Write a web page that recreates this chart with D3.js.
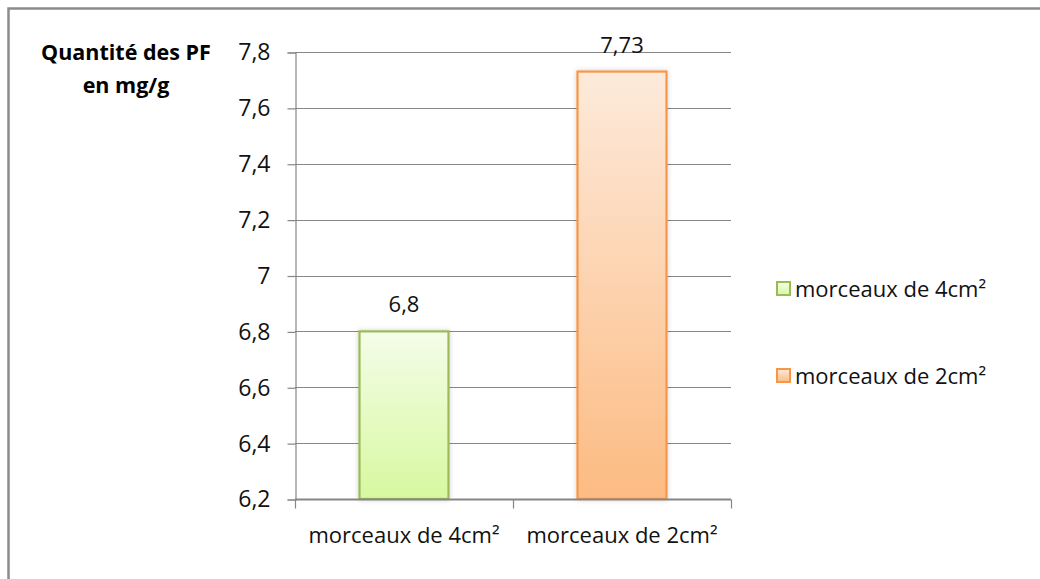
<!DOCTYPE html>
<html><head><meta charset="utf-8">
<script src="https://cdn.jsdelivr.net/npm/d3@7"></script>
<style>
html,body{margin:0;padding:0;background:#fff;}
svg{display:block;font-family:"Open Sans","Noto Sans",sans-serif;}
</style></head>
<body>
<svg id="chart" width="1040" height="579"></svg>
<script>
// Quantité de PF selon la taille des morceaux
const categories = ["morceaux de 4cm²", "morceaux de 2cm²"];
const values = [6.8, 7.73];
const valueLabels = ["6,8", "7,73"];
const yTicks = [6.2, 6.4, 6.6, 6.8, 7.0, 7.2, 7.4, 7.6, 7.8];
const yTickLabels = ["6,2", "6,4", "6,6", "6,8", "7", "7,2", "7,4", "7,6", "7,8"];
const fillTop = ["#f4fde9", "#fdeadb"];
const fillBottom = ["#d7f89f", "#fcbb82"];
const strokes = ["#9bbb59", "#f79646"];

const svg = d3.select("#chart");

// outer frame
svg.append("rect").attr("x", 8.5).attr("y", 8.5).attr("width", 1040).attr("height", 600)
  .attr("fill", "none").attr("stroke", "#8c8c8c").attr("stroke-width", 2.5);

const plot = {left: 295, right: 731, top: 52, bottom: 499};

const y = d3.scaleLinear().domain([6.2, 7.8]).range([plot.bottom, plot.top]);
const x = d3.scaleBand().domain(categories).range([plot.left, plot.right])
  .paddingInner(0.0).paddingOuter(0);

const defs = svg.append("defs");
categories.forEach((c, i) => {
  const g = defs.append("linearGradient").attr("id", "grad" + i)
    .attr("x1", 0).attr("y1", 0).attr("x2", 0).attr("y2", 1);
  g.append("stop").attr("offset", "0%").attr("stop-color", fillTop[i]);
  g.append("stop").attr("offset", "100%").attr("stop-color", fillBottom[i]);
});
const f = defs.append("filter").attr("id", "shadow").attr("x", "-20%").attr("y", "-5%")
  .attr("width", "140%").attr("height", "110%");
f.append("feDropShadow").attr("dx", 0).attr("dy", 0).attr("stdDeviation", 2.5)
  .attr("flood-color", "#000").attr("flood-opacity", 0.18);

// horizontal gridlines
svg.append("g").selectAll("line").data(yTicks.slice(1)).join("line")
  .attr("x1", plot.left).attr("x2", plot.right)
  .attr("y1", d => Math.round(y(d)) + 0.5).attr("y2", d => Math.round(y(d)) + 0.5)
  .attr("stroke", "#868686").attr("stroke-width", 1.2);

// y axis
const yAxis = d3.axisLeft(y).tickValues(yTicks)
  .tickFormat((d, i) => yTickLabels[i]).tickSize(8).tickPadding(17);
const gy = svg.append("g").attr("transform", `translate(${plot.left + 0.5},0.5)`).call(yAxis);
gy.select(".domain").attr("stroke", "#868686").attr("stroke-width", 1.2);
gy.selectAll(".tick line").attr("stroke", "#868686").attr("stroke-width", 1.2);
gy.selectAll(".tick text").attr("font-size", 23).attr("fill", "#111")
  .attr("font-family", "'Open Sans','Noto Sans',sans-serif");

// bars
const barW = 89;
svg.append("g").selectAll("rect").data(values).join("rect")
  .attr("x", (d, i) => x(categories[i]) + x.bandwidth() / 2 - barW / 2)
  .attr("y", d => y(d))
  .attr("width", barW)
  .attr("height", d => y(6.2) - y(d))
  .attr("fill", (d, i) => `url(#grad${i})`)
  .attr("stroke", (d, i) => strokes[i]).attr("stroke-width", 2.2)
  .attr("filter", "url(#shadow)");

// x axis
const xAxis = d3.axisBottom(x).tickSize(0).tickFormat("");
const gx = svg.append("g").attr("transform", `translate(0,${plot.bottom + 0.5})`).call(xAxis);
gx.select(".domain").remove();
gx.append("line").attr("x1", plot.left).attr("x2", plot.right).attr("y1", 0).attr("y2", 0)
  .attr("stroke", "#868686").attr("stroke-width", 2);
const xEdges = [plot.left, ...categories.map(c => x(c) + x.bandwidth())];
gx.selectAll(".edge").data(xEdges).join("line").attr("class", "edge")
  .attr("x1", d => d + 0.5).attr("x2", d => d + 0.5).attr("y1", 0).attr("y2", 9)
  .attr("stroke", "#868686").attr("stroke-width", 1.2);
svg.append("g").selectAll("text").data(categories).join("text")
  .attr("x", d => x(d) + x.bandwidth() / 2)
  .attr("y", 543)
  .attr("text-anchor", "middle").attr("font-size", 22).attr("fill", "#111")
  .text(d => d);

// value labels
svg.append("g").selectAll("text").data(values).join("text")
  .attr("x", (d, i) => x(categories[i]) + x.bandwidth() / 2)
  .attr("y", d => y(d) - 19)
  .attr("text-anchor", "middle").attr("font-size", 22).attr("fill", "#111")
  .text((d, i) => valueLabels[i]);

// axis title
const title = svg.append("text").attr("text-anchor", "middle").attr("font-size", 21.5)
  .attr("font-weight", "bold").attr("fill", "#000");
title.append("tspan").attr("x", 126).attr("y", 60).text("Quantité des PF");
title.append("tspan").attr("x", 126).attr("y", 93).text("en mg/g");

// legend
const legend = svg.append("g").selectAll("g").data(categories).join("g")
  .attr("transform", (d, i) => `translate(777,${282 + i * 87})`);
legend.append("rect").attr("width", 13).attr("height", 13)
  .attr("fill", (d, i) => `url(#grad${i})`)
  .attr("stroke", (d, i) => strokes[i]).attr("stroke-width", 2);
legend.append("text").attr("x", 18).attr("y", 14.5).attr("font-size", 22).attr("fill", "#111")
  .text(d => d);
</script>
</body></html>
